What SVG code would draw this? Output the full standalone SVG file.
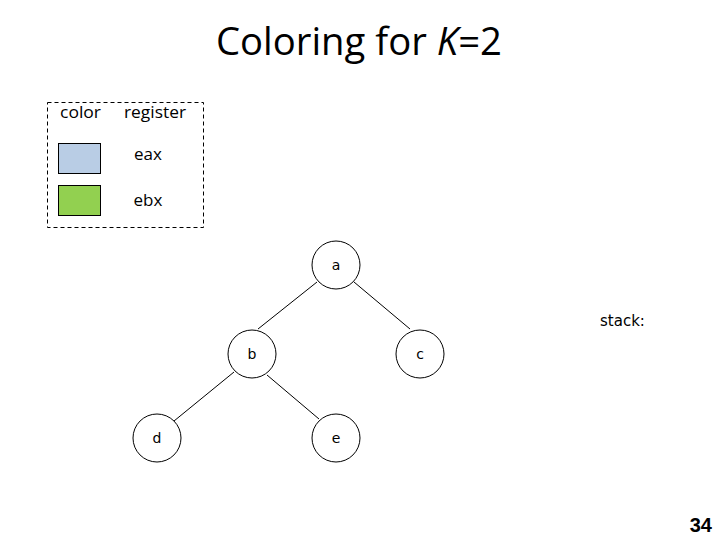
<svg xmlns="http://www.w3.org/2000/svg" width="720" height="540" viewBox="0 0 720 540">
<style>
.t{font-family:"Open Sans","Liberation Sans",sans-serif;fill:#000}
.n{fill:#fff;stroke:#000;stroke-width:1}
.nl{font-family:"DejaVu Sans","Liberation Sans",sans-serif;font-size:14px;text-anchor:middle;fill:#000}
.e{stroke:#000;stroke-width:1;fill:none}
</style>
<rect width="720" height="540" fill="#fff"/>
<text class="t" x="359" y="55" font-size="38" text-anchor="middle" textLength="286" lengthAdjust="spacingAndGlyphs">Coloring for <tspan font-style="italic">K</tspan>=2</text>
<g id="legend">
<rect x="47.5" y="102.5" width="156" height="125" fill="none" stroke="#000" stroke-dasharray="4,3"/>
<text class="t" x="60" y="118" font-size="17" textLength="41" lengthAdjust="spacingAndGlyphs">color</text>
<text class="t" x="124" y="118" font-size="17" textLength="62" lengthAdjust="spacingAndGlyphs">register</text>
<rect x="58.5" y="143.5" width="42" height="30" fill="#b9cde5" stroke="#000"/>
<rect x="58.5" y="185.5" width="42" height="30" fill="#92d050" stroke="#000"/>
<text class="t" x="148" y="160" font-size="17" text-anchor="middle">eax</text>
<text class="t" x="148" y="206" font-size="17" text-anchor="middle">ebx</text>
</g>
<g id="edges">
<line class="e" x1="317" y1="282" x2="258" y2="329"/>
<line class="e" x1="354" y1="282" x2="410" y2="329"/>
<line class="e" x1="267" y1="375" x2="319" y2="419"/>
<line class="e" x1="234" y1="372" x2="174" y2="421"/>
</g>
<g id="node-a"><circle class="n" cx="336" cy="265" r="24"/><text class="nl" x="336" y="270">a</text></g>
<g id="node-b"><circle class="n" cx="252" cy="354" r="24"/><text class="nl" x="252" y="359">b</text></g>
<g id="node-c"><circle class="n" cx="420" cy="354" r="24"/><text class="nl" x="420" y="359">c</text></g>
<g id="node-d"><circle class="n" cx="157" cy="438" r="24"/><text class="nl" x="157" y="443">d</text></g>
<g id="node-e"><circle class="n" cx="336" cy="438" r="24"/><text class="nl" x="336" y="443">e</text></g>
<text x="600" y="326" font-family="DejaVu Sans, Liberation Sans, sans-serif" font-size="15">stack:</text>
<text x="712" y="532" font-family="Liberation Sans, Arial, sans-serif" font-weight="bold" font-size="20" text-anchor="end">34</text>
</svg>
